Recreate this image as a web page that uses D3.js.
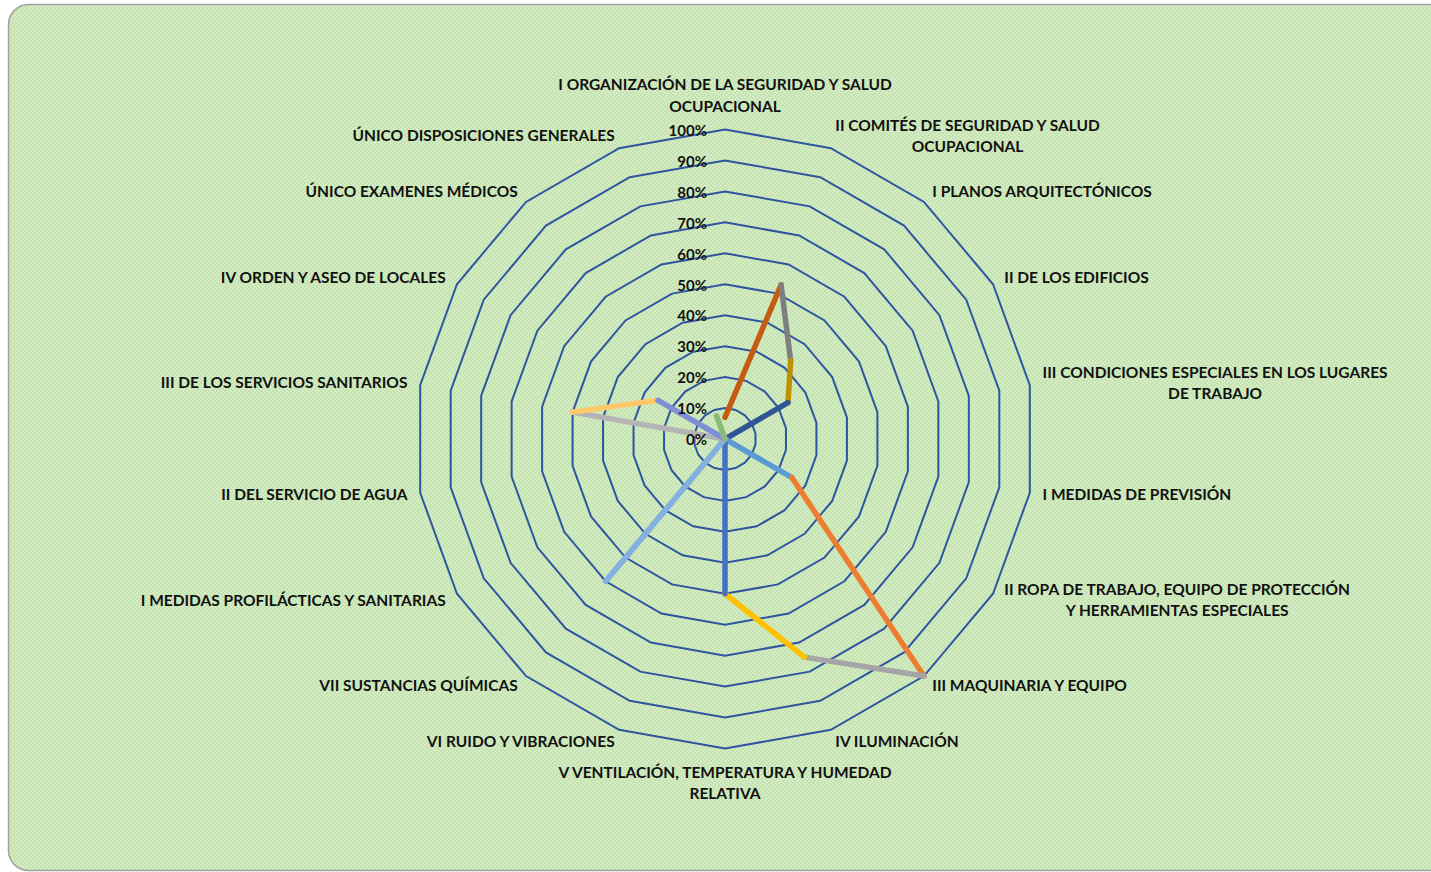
<!DOCTYPE html>
<html>
<head>
<meta charset="utf-8">
<script src="https://cdn.jsdelivr.net/npm/d3@7"></script>
<style>
  html, body { margin: 0; padding: 0; background: #fff; }
  svg { display: block; }
  text { font-family: Lato, "Open Sans", sans-serif; font-weight: 700; fill: #111; }
</style>
</head>
<body>
<svg id="chart" width="1431" height="872"></svg>
<script>
// categories, clockwise from the top
const categories = [
  "I ORGANIZACIÓN DE LA SEGURIDAD Y SALUD\nOCUPACIONAL",
  "II COMITÉS DE SEGURIDAD Y SALUD\nOCUPACIONAL",
  "I PLANOS ARQUITECTÓNICOS",
  "II DE LOS EDIFICIOS",
  "III CONDICIONES ESPECIALES EN LOS LUGARES\nDE TRABAJO",
  "I MEDIDAS DE PREVISIÓN",
  "II ROPA DE TRABAJO, EQUIPO DE PROTECCIÓN\nY HERRAMIENTAS ESPECIALES",
  "III MAQUINARIA Y EQUIPO",
  "IV ILUMINACIÓN",
  "V VENTILACIÓN, TEMPERATURA Y HUMEDAD\nRELATIVA",
  "VI RUIDO Y VIBRACIONES",
  "VII SUSTANCIAS QUÍMICAS",
  "I MEDIDAS PROFILÁCTICAS Y SANITARIAS",
  "II DEL SERVICIO DE AGUA",
  "III DE LOS SERVICIOS SANITARIOS",
  "IV ORDEN Y ASEO DE LOCALES",
  "ÚNICO EXAMENES MÉDICOS",
  "ÚNICO DISPOSICIONES GENERALES"
];

// percentage per category
const values = [7, 53, 33, 23.5, 0, 0, 25, 100, 75, 50, 0, 60, 0, 0, 50, 25, 0, 8];

// colour of each line piece, from point i to point i+1
const segmentColors = [
  "#c55a11", "#7f7f7f", "#bf9000", "#2f5597", "#548235", "#5b9bd5",
  "#ed7d31", "#a5a5a5", "#ffc000", "#4472c4", "#84b0df", "#84b0df",
  "#f4b183", "#b4b4b4", "#ffc96b", "#7d8fd7", "#8cb97a"
];

const tickValues = [0, 10, 20, 30, 40, 50, 60, 70, 80, 90, 100];

const cx = 725, cy = 439, R = 309.5;
const LINE_H = 21.5;
const LABEL_GAP = 13;
const FONT = 15.5;

const svg = d3.select("#chart");
const defs = svg.append("defs");

// green texture fill
const pat = defs.append("pattern")
  .attr("id", "tex")
  .attr("patternUnits", "userSpaceOnUse")
  .attr("width", 4).attr("height", 4);
pat.append("rect").attr("width", 4).attr("height", 4).attr("fill", "#c4e3b0");
pat.append("rect").attr("width", 2).attr("height", 2).attr("fill", "#d4ecc4");
pat.append("rect").attr("x", 2).attr("y", 2).attr("width", 2).attr("height", 2).attr("fill", "#d4ecc4");

svg.append("rect")
  .attr("x", 8.5).attr("y", 4.5)
  .attr("width", 1445).attr("height", 866)
  .attr("rx", 20)
  .attr("fill", "url(#tex)")
  .attr("stroke", "#a0a0a0")
  .attr("stroke-width", 1.5);

const r = d3.scaleLinear().domain([0, 100]).range([0, R]);
const angle = d3.scaleLinear().domain([0, categories.length]).range([0, 2 * Math.PI]);

const g = svg.append("g").attr("transform", `translate(${cx},${cy})`);

// rings
const ring = d3.lineRadial()
  .angle((d, i) => angle(i))
  .radius(d => r(d))
  .curve(d3.curveLinearClosed);

g.selectAll("path.ring")
  .data(tickValues.slice(1))
  .enter()
  .append("path")
  .attr("class", "ring")
  .attr("d", t => ring(categories.map(() => t)))
  .attr("fill", "none")
  .attr("stroke", "#2f55a0")
  .attr("stroke-width", 2);

// data line, one piece per segment
const seg = d3.lineRadial()
  .angle(d => angle(d.i))
  .radius(d => r(d.v));

const pieces = d3.range(values.length - 1).map(i => [
  { i: i, v: values[i] },
  { i: i + 1, v: values[i + 1] }
]);

g.selectAll("path.piece")
  .data(pieces)
  .enter()
  .append("path")
  .attr("class", "piece")
  .attr("d", seg)
  .attr("fill", "none")
  .attr("stroke", (d, i) => segmentColors[i])
  .attr("stroke-width", 5.5)
  .attr("stroke-linecap", "round");

// tick labels (on top of the lines)
g.selectAll("text.tick")
  .data(tickValues)
  .enter()
  .append("text")
  .attr("class", "tick")
  .attr("x", -18)
  .attr("y", t => -r(t) + 1)
  .attr("dy", "0.35em")
  .attr("text-anchor", "end")
  .attr("font-size", 15)
  .text(t => t + "%");

// category labels
categories.forEach((name, i) => {
  const a = angle(i);
  const s = Math.sin(a), c = Math.cos(a);
  const x = (R + LABEL_GAP) * s;
  const y = -(R + LABEL_GAP) * c;
  const lines = name.split("\n");
  const n = lines.length;

  let firstY;
  if (Math.abs(s) < 0.01) {
    firstY = c > 0 ? y - (n - 0.5) * LINE_H + 0.5 : y + LINE_H / 2;
  } else {
    firstY = y - (n - 1) * LINE_H / 2;
  }

  const txt = g.append("text").attr("font-size", FONT);
  const spans = lines.map((l, k) => txt.append("tspan")
    .attr("y", firstY + k * LINE_H)
    .attr("dy", "0.35em")
    .text(l));

  const widths = spans.map(sp => sp.node().getComputedTextLength());
  const w = d3.max(widths);
  let mid;
  if (Math.abs(s) < 0.01) mid = x;
  else if (s > 0) mid = x + w / 2;
  else mid = x - w / 2;
  txt.attr("text-anchor", "middle");
  spans.forEach(sp => sp.attr("x", mid));
});
</script>
</body>
</html>
